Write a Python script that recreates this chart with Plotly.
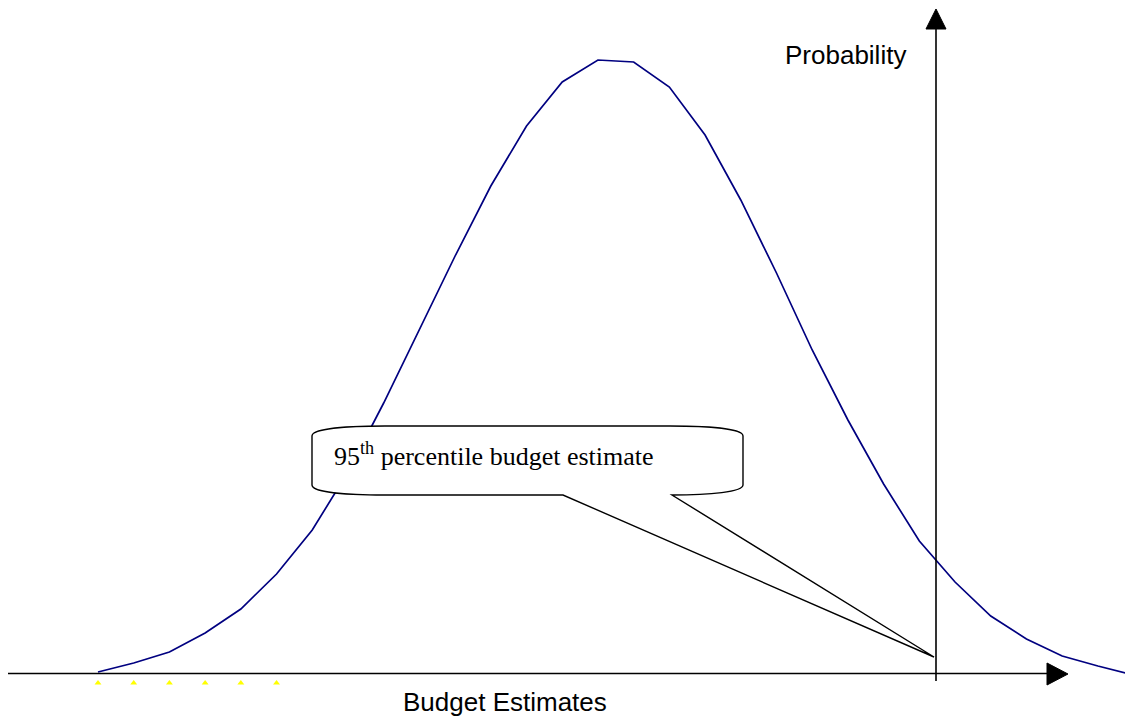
import plotly.graph_objects as go

# budget estimate index (evenly spaced vertices of the drawn curve)
budget_idx = list(range(30))
# probability (arbitrary units, height above the budget axis)
probability = [1, 10, 21, 40, 64, 99, 143, 201, 270, 343,
               417, 487, 547, 591, 613, 611, 586, 538, 473, 400,
               323, 253, 189, 132, 91, 57, 34, 17, 7, -2]
# small yellow marks below the axis
mark_idx = [0, 1, 2, 3, 4, 5]
mark_level = [-10, -10, -10, -10, -10, -10]

W, H = 1125, 717
SANS = "Liberation Sans, Arial, sans-serif"
SERIF = "Liberation Serif, Times New Roman, serif"


def px(x):
    return x / W


def py(y):
    return 1 - y / H


def path(cmds):
    # cmds: list of (letter, [(x, y), ...]) in page pixels -> paper path
    out = []
    for c, pts in cmds:
        if c == "L":
            for x, y in pts:
                out.append(f"L {px(x):.5f},{py(y):.5f}")
        else:
            out.append(c + " " + " ".join(f"{px(x):.5f},{py(y):.5f}" for x, y in pts))
    return " ".join(out) + " Z"


fig = go.Figure()

fig.add_trace(go.Scatter(
    x=budget_idx, y=probability, mode="lines",
    line=dict(color="#000080", width=1.7),
    hoverinfo="skip", showlegend=False,
))
fig.add_trace(go.Scatter(
    x=mark_idx, y=mark_level, mode="markers",
    marker=dict(symbol="triangle-up", size=6, color="#ffff00"),
    hoverinfo="skip", showlegend=False,
))

shapes = []
# budget axis + arrow
shapes.append(dict(type="line", xref="paper", yref="paper",
                   x0=px(8), y0=py(673.5), x1=px(1050), y1=py(673.5),
                   line=dict(color="black", width=1.6)))
shapes.append(dict(type="path", xref="paper", yref="paper",
                   path=path([("M", [(1047, 663)]), ("L", [(1068, 674), (1047, 685)])]),
                   fillcolor="black", line=dict(color="black", width=1)))
# probability axis + arrow
shapes.append(dict(type="line", xref="paper", yref="paper",
                   x0=px(936), y0=py(681), x1=px(936), y1=py(28),
                   line=dict(color="black", width=1.6)))
shapes.append(dict(type="path", xref="paper", yref="paper",
                   path=path([("M", [(926, 29)]), ("L", [(936, 9), (946, 29)])]),
                   fillcolor="black", line=dict(color="black", width=1)))
# callout bubble
shapes.append(dict(type="path", xref="paper", yref="paper",
                   path=path([
                       ("M", [(312, 436)]),
                       ("C", [(312, 429), (345, 426), (385, 426)]),
                       ("L", [(670, 426)]),
                       ("C", [(710, 426), (743, 429), (743, 436)]),
                       ("L", [(743, 485)]),
                       ("C", [(743, 492), (710, 495), (672, 495)]),
                       ("L", [(934, 657), (563, 495), (385, 495)]),
                       ("C", [(345, 495), (312, 492), (312, 485)]),
                   ]),
                   fillcolor="white", line=dict(color="black", width=1.4)))

annotations = [
    dict(text="Probability", x=px(908), y=py(55), xref="paper", yref="paper",
         xanchor="right", yanchor="middle", showarrow=False,
         font=dict(family=SANS, size=26, color="black")),
    dict(text="Budget Estimates", x=px(505), y=py(702), xref="paper", yref="paper",
         xanchor="center", yanchor="middle", showarrow=False,
         font=dict(family=SANS, size=26, color="black")),
    dict(text="95<sup>th</sup> percentile budget estimate", x=px(332), y=py(454),
         xref="paper", yref="paper", xanchor="left", yanchor="middle",
         showarrow=False, font=dict(family=SERIF, size=26, color="black")),
]

step = 35.71
x0_px = 98
base_px = 673
fig.update_layout(
    width=W, height=H,
    margin=dict(l=0, r=0, t=0, b=0),
    paper_bgcolor="white", plot_bgcolor="white",
    xaxis=dict(range=[-x0_px / step, (W - x0_px) / step], visible=False, fixedrange=True),
    yaxis=dict(range=[-(H - base_px), base_px], visible=False, fixedrange=True),
    shapes=shapes, annotations=annotations,
    showlegend=False,
)

fig.write_html("out.html", config={"displayModeBar": False},
               post_script="document.body.style.margin='0';document.body.style.overflow='hidden';")
